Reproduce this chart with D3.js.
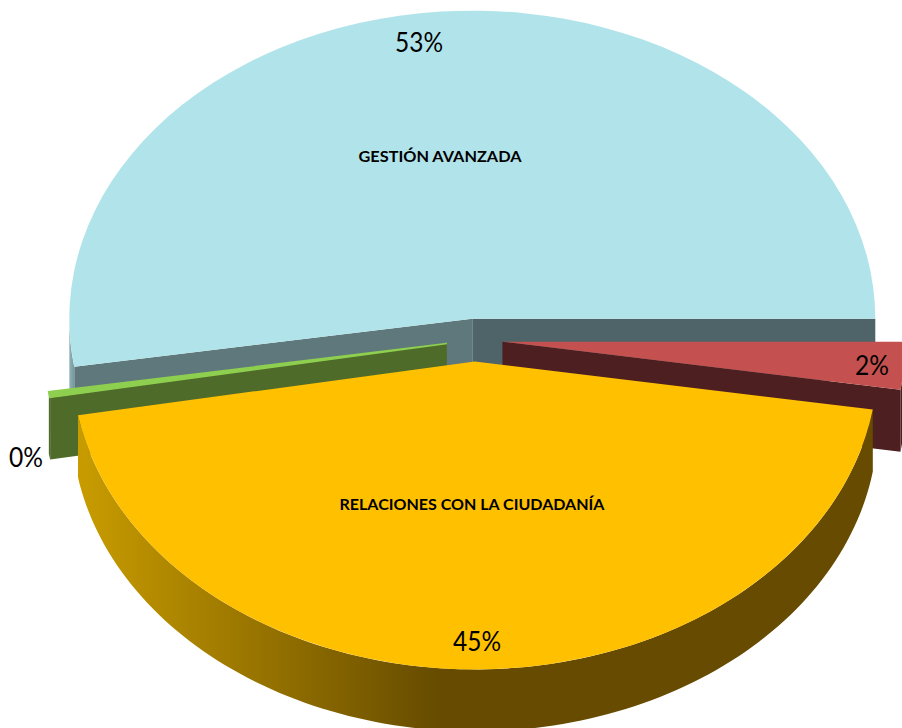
<!DOCTYPE html>
<html>
<head>
<meta charset="utf-8" />
<title>D3 Pie 3D</title>
<style>
body { margin: 0; background: #fff; }
svg { display: block; }
</style>
</head>
<body>
<div id="chart"></div>
<script src="https://d3js.org/d3.v7.min.js"></script>
<script>
(function(d3) {
'use strict';
var categories = ['GESTIÓN AVANZADA', '', 'RELACIONES CON LA CIUDADANÍA', ''];
var values = [52.5, 2.5, 44.7, 0.3];
var percentLabels = ['53%', '2%', '45%', '0%'];

var topColors = ['#b1e4ea', '#c4514f', '#ffc000', '#8ecf4f'];
var wallStartColors = ['#5f787c', null, null, '#4f6b29'];
var wallEndColors = ['#4f6469', '#4e1f20', null, null];
var rimColors = ['url(#rimBlue)', '#4e1f20', 'url(#rimYellow)', '#4f6b29'];

// layout
var percentXY = [[419, 43], [872, 366], [477, 642], [26, 458]];
var categoryXY = [[440, 157], null, [472, 505], null];

var width = 902;
var height = 728;
var cx = 474.5;
var cy = 340;
var rx = 403;
var ry = 308;
var depth = 62;
var explode = 28;
var squash = ry / rx;
var rad = Math.PI / 180;

var svg = d3.select('#chart')
  .append('svg')
  .attr('width', width)
  .attr('height', height);

var defs = svg.append('defs');
function rimGradient(id, stops, x1, x2) {
  var g = defs.append('linearGradient')
    .attr('id', id)
    .attr('gradientUnits', 'userSpaceOnUse')
    .attr('x1', x1).attr('x2', x2)
    .attr('y1', 0).attr('y2', 0);
  stops.forEach(function(s) {
    g.append('stop').attr('offset', s[0]).attr('stop-color', s[1]);
  });
}
rimGradient('rimYellow', [[0, '#c89c00'], [1, '#664b00']], 79, 440);
rimGradient('rimBlue', [[0, '#8fb4ba'], [1, '#5f787c']], 69, 80);

var pie = d3.pie()
  .value(function(d) { return d; })
  .sort(null)
  .startAngle(-99 * rad)
  .endAngle((360 - 99) * rad);

var arc = d3.arc()
  .innerRadius(0)
  .outerRadius(rx);

var line = d3.line();

function apex(d) {
  var mid = (d.startAngle + d.endAngle) / 2;
  return [cx + explode * Math.sin(mid), cy - explode * squash * Math.cos(mid)];
}
function rim(d, a) {
  var c = apex(d);
  return [c[0] + rx * Math.sin(a), c[1] - ry * Math.cos(a)];
}
function down(p) {
  return [p[0], p[1] + depth];
}
function cutFace(d, a) {
  var c = apex(d);
  var p = rim(d, a);
  return line([c, p, down(p), down(c)]) + 'Z';
}
// front part of the outer edge, 90deg to 270deg clockwise from north
function rimWall(d) {
  var spans = [[90 * rad, 270 * rad], [-270 * rad, -90 * rad]];
  var out = '';
  spans.forEach(function(s) {
    var a0 = Math.max(d.startAngle, s[0]);
    var a1 = Math.min(d.endAngle, s[1]);
    if (a1 <= a0) return;
    var angles = d3.range(0, 121).map(function(i) { return a0 + (a1 - a0) * i / 120; });
    var upper = angles.map(function(a) { return rim(d, a); });
    var lower = upper.map(down).reverse();
    out += line(upper.concat(lower)) + 'Z';
  });
  return out;
}

var arcs = pie(values);
var drawOrder = [0, 1, 3, 2];

drawOrder.forEach(function(i) {
  var d = arcs[i];
  var g = svg.append('g').attr('class', 'slice');
  if (wallStartColors[i]) {
    g.append('path').attr('d', cutFace(d, d.startAngle)).attr('fill', wallStartColors[i]);
  }
  if (wallEndColors[i]) {
    g.append('path').attr('d', cutFace(d, d.endAngle)).attr('fill', wallEndColors[i]);
  }
  g.append('path').attr('d', rimWall(d)).attr('fill', rimColors[i]);
  var c = apex(d);
  g.append('path')
    .attr('d', arc(d))
    .attr('transform', 'translate(' + c[0] + ',' + c[1] + ') scale(1,' + squash + ')')
    .attr('fill', topColors[i])
    // the green slice is so thin it needs an edge to stay visible up to its tip
    .attr('stroke', i === 3 ? topColors[i] : 'none')
    .attr('stroke-width', 2);
});

svg.selectAll('text.pct')
  .data(percentLabels)
  .enter()
  .append('text')
  .attr('class', 'pct')
  .attr('x', function(d, i) { return percentXY[i][0]; })
  .attr('y', function(d, i) { return percentXY[i][1]; })
  .attr('dy', '0.35em')
  .attr('text-anchor', 'middle')
  .attr('font-family', 'Lato, sans-serif')
  .attr('font-size', 26)
  .attr('textLength', function(d) { return d.length * 14 + 6; })
  .attr('lengthAdjust', 'spacingAndGlyphs')
  .attr('fill', '#000')
  .text(function(d) { return d; });

svg.selectAll('text.cat')
  .data(categories.filter(function(d) { return d; }))
  .enter()
  .append('text')
  .attr('class', 'cat')
  .attr('x', function(d) { return categoryXY[categories.indexOf(d)][0]; })
  .attr('y', function(d) { return categoryXY[categories.indexOf(d)][1]; })
  .attr('dy', '0.35em')
  .attr('text-anchor', 'middle')
  .attr('font-family', 'Lato, sans-serif')
  .attr('font-weight', 700)
  .attr('font-size', 15)
  .attr('textLength', function(d) { return d.length > 20 ? 265 : 163; })
  .attr('lengthAdjust', 'spacingAndGlyphs')
  .attr('fill', '#000')
  .text(function(d) { return d; });
})(window.d3);
</script>
</body>
</html>
